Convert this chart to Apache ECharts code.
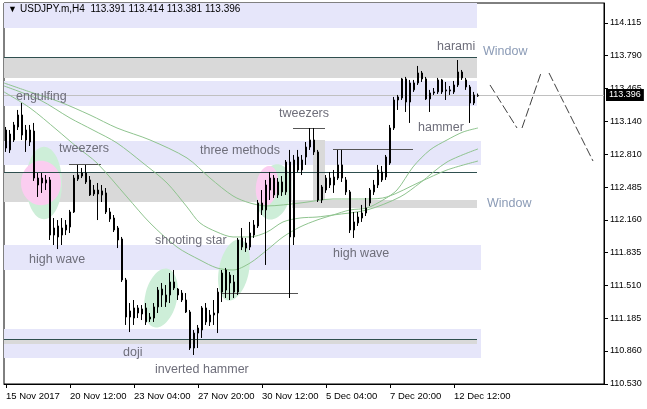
<!DOCTYPE html>
<html><head><meta charset="utf-8">
<script src="https://cdn.jsdelivr.net/npm/echarts@6/dist/echarts.min.js"></script>
<style>html,body{margin:0;padding:0;background:#fff}#c{width:647px;height:409px}</style>
</head><body><div id="c"></div>
<script>
// ---------- data ----------
const symbolTitle = 'USDJPY.m,H4  113.391 113.414 113.381 113.396';
const tickBars = [0, 16, 32, 48, 64, 80, 96, 112];
const tickLabels = ['15 Nov 2017', '20 Nov 12:00', '23 Nov 04:00', '27 Nov 20:00', '30 Nov 12:00', '5 Dec 04:00', '7 Dec 20:00', '12 Dec 12:00'];
const priceTicks = [110.530, 110.860, 111.185, 111.510, 111.835, 112.160, 112.485, 112.810, 113.140, 113.465, 113.790, 114.115];
const priceRange = [110.530, 114.313];
const barRange = [-0.5, 149.5];
const lastPrice = 113.396;

// [open, close, low, high] per H4 bar
const ohlc = [
[113.052,112.873,112.834,113.082],[113.012,112.854,112.824,113.052],[112.953,113.102,112.933,113.132],[113.082,113.201,113.052,113.251],
[113.201,113.002,112.953,113.320],[113.052,112.953,112.834,113.102],[112.933,113.052,112.893,113.102],[113.042,112.575,112.546,113.122],
[112.575,112.506,112.387,112.625],[112.575,112.526,112.427,112.625],[112.526,112.556,112.456,112.605],[112.556,112.009,111.960,112.585],
[112.009,112.079,111.910,112.178],[112.099,111.990,111.870,112.158],[112.009,112.079,111.910,112.178],[112.059,112.109,112.009,112.158],
[112.089,112.238,112.029,112.258],[112.238,112.575,112.228,112.605],[112.565,112.605,112.546,112.705],[112.595,112.625,112.575,112.675],
[112.625,112.536,112.516,112.705],[112.556,112.407,112.397,112.595],[112.417,112.456,112.397,112.506],[112.456,112.417,112.158,112.526],
[112.407,112.447,112.337,112.506],[112.427,112.238,112.218,112.476],[112.238,112.168,112.139,112.278],[112.178,112.059,112.039,112.208],
[112.079,111.960,111.880,112.099],[111.970,111.563,111.543,111.990],[111.563,111.195,111.116,111.583],[111.195,111.255,111.046,111.334],
[111.185,111.285,111.116,111.364],[111.285,111.235,111.185,111.314],[111.275,111.225,111.165,111.314],[111.146,111.285,111.116,111.334],
[111.175,111.195,111.146,111.235],[111.185,111.295,111.146,111.334],[111.295,111.463,111.235,111.493],[111.473,111.414,111.295,111.533],
[111.344,111.414,111.295,111.513],[111.414,111.543,111.334,111.632],[111.543,111.483,111.463,111.662],[111.473,111.414,111.364,111.483],
[111.433,111.364,111.344,111.463],[111.364,111.245,111.235,111.433],[111.245,110.887,110.868,111.265],[110.887,111.036,110.818,111.066],
[111.036,111.086,110.887,111.116],[111.066,111.285,110.987,111.304],[111.285,111.146,111.116,111.334],[111.146,111.215,111.106,111.265],
[111.215,111.235,111.116,111.364],[111.235,111.443,111.036,111.483],[111.443,111.632,111.344,111.662],[111.463,111.662,111.384,111.682],
[111.612,111.533,111.364,111.642],[111.543,111.443,111.384,111.612],[111.443,111.960,111.414,111.980],[111.980,111.890,111.860,112.079],
[111.880,111.930,111.841,111.980],[111.890,112.029,111.860,112.139],[112.009,112.109,111.980,112.158],[112.099,112.327,112.079,112.357],
[112.327,112.258,112.208,112.456],[112.258,112.506,111.712,112.556],[112.456,112.575,112.357,112.635],[112.575,112.407,112.377,112.605],
[112.407,112.536,112.377,112.575],[112.536,112.437,112.397,112.595],[112.437,112.734,112.407,112.754],[112.734,111.990,111.384,112.854],
[111.990,112.754,111.910,112.804],[112.784,112.655,112.635,112.854],[112.655,112.754,112.605,112.804],[112.784,112.883,112.705,112.933],
[112.883,112.953,112.854,113.072],[112.953,112.834,112.804,113.072],[112.834,112.357,112.337,112.854],[112.357,112.486,112.327,112.506],
[112.456,112.575,112.427,112.605],[112.575,112.506,112.476,112.635],[112.506,112.585,112.427,112.655],[112.575,112.705,112.556,112.854],
[112.705,112.575,112.536,112.854],[112.556,112.437,112.407,112.585],[112.437,112.059,112.029,112.456],[112.059,112.139,111.980,112.238],
[112.129,112.188,112.099,112.238],[112.178,112.228,112.139,112.308],[112.228,112.278,112.198,112.377],[112.327,112.456,112.298,112.476],
[112.437,112.506,112.407,112.556],[112.506,112.655,112.476,112.705],[112.635,112.556,112.536,112.695],[112.585,112.784,112.556,112.804],
[112.724,113.072,112.705,113.102],[113.072,113.350,113.052,113.380],[113.380,113.350,113.251,113.400],[113.370,113.559,113.350,113.569],
[113.559,113.330,113.231,113.579],[113.330,113.519,113.122,113.549],[113.450,113.519,113.430,113.549],[113.519,113.618,113.499,113.688],
[113.618,113.559,113.529,113.638],[113.559,113.360,113.350,113.579],[113.360,113.420,113.231,113.450],[113.430,113.420,113.400,113.469],
[113.430,113.549,113.410,113.569],[113.549,113.430,113.410,113.559],[113.440,113.450,113.350,113.529],[113.450,113.440,113.400,113.489],
[113.430,113.499,113.410,113.539],[113.499,113.628,113.479,113.747],[113.628,113.569,113.549,113.648],[113.549,113.479,113.450,113.569],
[113.479,113.320,113.122,113.499],[113.320,113.400,113.300,113.430],[113.391,113.396,113.381,113.414]
];

// moving averages: [bar, price]
const maFast = [[-0.5,113.430],[6,113.271],[12.75,113.052],[17.75,112.883],[22.75,112.724],[30.25,112.387],[36,112.129],[42.75,111.890],[48.5,111.761],[52.75,111.682],[56.75,111.662],[61,111.731],[65.25,111.860],[69.25,111.990],[73.5,112.089],[77.75,112.158],[81.75,112.208],[86,112.258],[90.25,112.278],[94.25,112.357],[97.75,112.456],[101.75,112.685],[106,112.854],[110.25,112.953],[114.25,113.032],[118,113.072]];
const maMid = [[-0.5,113.489],[8.5,113.350],[16,113.171],[21.75,113.052],[27.75,112.923],[34.25,112.724],[40.25,112.526],[45.25,112.288],[48.5,112.129],[52.75,112.039],[56.75,111.990],[61,111.990],[65.25,112.039],[69.25,112.139],[73.5,112.178],[77.75,112.188],[81.75,112.208],[90.25,112.258],[98.5,112.387],[103.5,112.526],[110.25,112.734],[118,112.864]];
const maSlow = [[-0.5,113.519],[6,113.430],[13.5,113.330],[21,113.201],[27.75,113.072],[36,112.953],[45.25,112.774],[51,112.575],[56.75,112.397],[61,112.327],[65.25,112.298],[73.5,112.327],[81.75,112.367],[90.25,112.367],[95.25,112.387],[103.5,112.536],[110.25,112.655],[118,112.744]];

// zones: [barFrom, barTo, priceLow, priceHigh]
const lavenderZones = [[-0.5,117.75,114.065,114.313],[-0.5,117.75,113.291,113.539],[-0.5,118.75,112.705,112.943],[-0.5,118.75,111.662,111.910],[-0.5,118.75,110.788,111.076]];
const grayZones = [[-0.5,117.75,113.569,113.767],[-0.5,71.5,112.337,112.635],[71.5,117.75,112.278,112.357],[-0.5,117.75,110.927,110.967],[76.75,79.75,112.357,112.953]];
// horizontal lines: [barFrom, barTo, price]
const levelLines = [[-0.5,117.75,113.777],[-0.5,117.75,112.635],[-0.5,117.75,110.977]];
const patternLines = [[71.75,79.75,113.072],[15.75,23.75,112.715],[81.75,101.75,112.864],[53.75,73,111.434]];
// projection: [bar1, price1, bar2, price2]
const zigzag = [[121,113.499,127.75,113.072],[129,113.072,133.75,113.618],[135.75,113.618,146.75,112.744]];
// ellipses: [centerBar, centerPrice, halfBars, halfPrice, tilt]
const greenEllipses = [[9.5,112.526,4.5,0.36,0],[38.75,111.384,4,0.298,-0.22],[57,111.662,3.75,0.308,-0.2],[67,112.437,4.25,0.278,-0.2]];
const pinkEllipses = [[8.75,112.526,5,0.22,0],[65.25,112.496,2.75,0.2,-0.15]];
// text objects: [bar, price, text]
const patternLabels = [[2.5,113.380,'engulfing'],[13.25,112.864,'tweezers'],[48.5,112.844,'three methods'],[68.25,113.211,'tweezers'],[107.75,113.876,'harami'],[103,113.072,'hammer'],[37.25,111.950,'shooting star'],[5.75,111.761,'high wave'],[81.75,111.821,'high wave'],[29.25,110.838,'doji'],[37.25,110.669,'inverted hammer']];
const windowLabels = [[119.25,113.827,'Window'],[120.25,112.317,'Window']];

// ---------- chart ----------
const FONT = 'Liberation Sans';
const candleData = ohlc.map((d, i) => [i, d[0], d[1], d[2], d[3]]);
const zoneData = z => z.map(r => [{ xAxis: r[0], yAxis: r[2] }, { xAxis: r[1], yAxis: r[3] }]);
const hLineData = l => l.map(r => [{ coord: [r[0], r[2]] }, { coord: [r[1], r[2]] }]);
const segData = l => l.map(r => [{ coord: [r[0], r[1]] }, { coord: [r[2], r[3]] }]);

function bandSeries(zones, color, z) {
  return { type: 'line', data: [], silent: true,
    markArea: { silent: true, z: z, itemStyle: { color: color, opacity: 1 }, label: { show: false }, emphasis: { disabled: true }, data: zoneData(zones) } };
}
function lineSeries(data, color, dash, z) {
  return { type: 'line', data: [], silent: true,
    markLine: { silent: true, z: z, symbol: ['none', 'none'], label: { show: false }, emphasis: { disabled: true },
      lineStyle: { color: color, type: dash, width: 1, opacity: 1 }, data: data } };
}
function ellipseSeries(list, color, z) {
  return { type: 'custom', z: z, silent: true, data: list,
    renderItem: (p, api) => {
      const c = api.coord([api.value(0), api.value(1)]);
      const s = api.size([api.value(2), api.value(3)]);
      return { type: 'ellipse', x: c[0], y: c[1], rotation: api.value(4),
        shape: { cx: 0, cy: 0, rx: s[0], ry: s[1] }, style: { fill: color } };
    } };
}
function labelSeries(list, color, z) {
  return { type: 'custom', z: z, silent: true, data: list.map(l => [l[0], l[1]]),
    renderItem: (p, api) => {
      const c = api.coord([api.value(0), api.value(1)]);
      return { type: 'text', x: c[0], y: c[1],
        style: { text: list[p.dataIndex][2], fill: color, font: '12.5px "' + FONT + '"', textAlign: 'left', verticalAlign: 'middle', textVerticalAlign: 'middle' } };
    } };
}
function maSeries(data) {
  return { type: 'line', data: data, z: 3, silent: true, showSymbol: false, symbol: 'none', smooth: 0.3,
    lineStyle: { color: '#8fc48f', width: 1 } };
}

const chart = echarts.init(document.getElementById('c'));
chart.setOption({
  animation: false,
  backgroundColor: '#ffffff',
  title: [
    { text: '▼', left: 8, top: 5, padding: 0, textStyle: { fontSize: 9, color: '#000', fontWeight: 'normal' } },
    { text: symbolTitle, left: 20, top: 4, padding: 0, textStyle: { fontSize: 10, fontFamily: FONT, color: '#000', fontWeight: 'normal' } }
  ],
  grid: { left: 4, right: 43, top: 3, bottom: 25, show: true, borderColor: '#000', borderWidth: 1, backgroundColor: '#fff' },
  xAxis: {
    type: 'value', min: barRange[0], max: barRange[1],
    axisLine: { show: true, onZero: false, lineStyle: { color: '#000' } },
    axisTick: { show: true, customValues: tickBars, length: 4, lineStyle: { color: '#000' } },
    axisLabel: { customValues: tickBars, formatter: v => tickLabels[tickBars.indexOf(v)], align: 'left', color: '#000', fontSize: 9.5, fontFamily: FONT, margin: 7 },
    splitLine: { show: false }
  },
  yAxis: {
    type: 'value', position: 'right', min: priceRange[0], max: priceRange[1],
    axisLine: { show: true, onZero: false, lineStyle: { color: '#000' } },
    axisTick: { show: true, customValues: priceTicks, length: 4, lineStyle: { color: '#000' } },
    axisLabel: { customValues: priceTicks, formatter: v => v.toFixed(3), color: '#000', fontSize: 9, fontFamily: FONT, margin: 6 },
    splitLine: { show: false }
  },
  series: [
    bandSeries(lavenderZones, '#e6e6fa', 1),
    bandSeries(grayZones, '#d9d9d9', 1),
    ellipseSeries(greenEllipses, '#cdeed8', 2),
    ellipseSeries(pinkEllipses, '#fbcdf0', 2),
    lineSeries(hLineData(levelLines), '#2f4f4f', 'solid', 3),
    lineSeries(hLineData(patternLines), '#555555', 'solid', 3),
    lineSeries(segData(zigzag), '#404040', [9, 3], 3),
    maSeries(maFast), maSeries(maMid), maSeries(maSlow),
    {
      type: 'candlestick', data: candleData, z: 4, silent: true, barWidth: 2,
      itemStyle: { color: '#ffffff', color0: '#000000', borderColor: '#000000', borderColor0: '#000000', borderWidth: 1 },
      markLine: {
        silent: true, z: 3, symbol: ['none', 'none'], data: [{ yAxis: lastPrice }],
        lineStyle: { color: '#c0c0c0', type: 'solid', width: 1, opacity: 1 },
        emphasis: { disabled: true },
        label: { show: true, position: 'end', formatter: lastPrice.toFixed(3), color: '#fff', backgroundColor: '#000', padding: [2, 3, 1, 3], fontSize: 9, fontFamily: FONT, distance: 2 }
      }
    },
    labelSeries(patternLabels, '#6e6e7a', 6),
    labelSeries(windowLabels, '#8b9bb6', 6)
  ]
});
</script></body></html>
